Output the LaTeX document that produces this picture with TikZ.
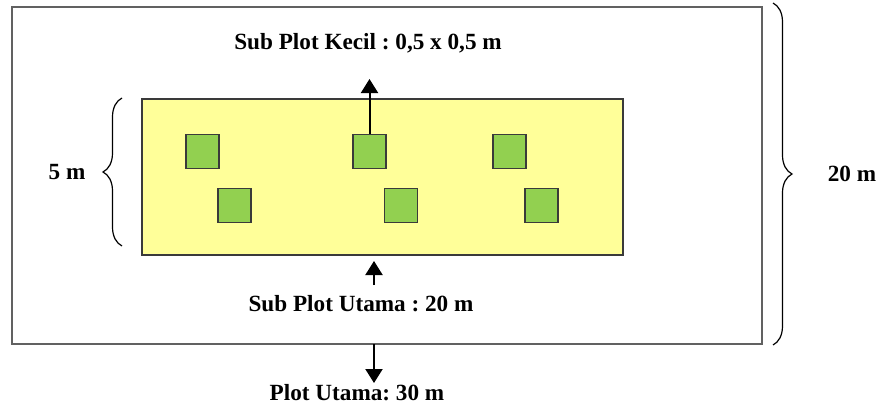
\documentclass[tikz,border=0pt]{standalone}
\usepackage{fontspec}
\setmainfont{Liberation Serif}
\usetikzlibrary{arrows.meta,decorations.pathreplacing}
\definecolor{plotyellow}{HTML}{FFFF99}
\definecolor{plotgreen}{HTML}{92D050}
\definecolor{edgegray}{HTML}{3A3A3A}
\begin{document}
\frenchspacing
\begin{tikzpicture}[x=0.5pt,y=-0.5pt,
  lbl/.style={font=\fontsize{11.6}{13}\selectfont\bfseries, inner sep=0pt},
  sq/.style={draw=edgegray, line width=0.6pt, fill=plotgreen, minimum width=16.5pt, minimum height=17pt, inner sep=0pt},
  arr/.style={line width=1pt, -{Triangle[width=8.5pt,length=7pt]}},
  bracepath/.style={line width=0.6pt, decorate, decoration={brace, amplitude=9.5pt}}]
\useasboundingbox (0,0) rectangle (880,407);
% outer plot
\draw[draw=edgegray!80, line width=0.6pt] (12,7) rectangle (762,344);
\coordinate (outerbot) at (374,344);
% sub plot utama
\draw[draw=edgegray, line width=0.6pt, fill=plotyellow] (142,99) rectangle (623,255);
\coordinate (yelbot) at (374,255);
% small sub plots
\node[sq] (s1) at (202.5,151.5) {};
\node[sq] (s2) at (234.5,205.5) {};
\node[sq] (s3) at (369.5,151.5) {};
\node[sq] (s4) at (401,205.5) {};
\node[sq] (s5) at (509.5,151.5) {};
\node[sq] (s6) at (541.5,205.5) {};
% labels
\node[lbl] (kecil) at (368,43) {Sub Plot Kecil : 0,5 x 0,5 m};
\node[lbl] (utama) at (361,304) {Sub Plot Utama : 20 m};
\node[lbl] (plot) at (357,393) {Plot Utama: 30 m};
\node[lbl] (five) at (67,172) {5 m};
\node[lbl] (twenty) at (852,174) {20 m};
% arrows
\coordinate (kecilend) at (s3.north |- 0,79);
\draw[arr] (s3.north) -- (kecilend);
\coordinate (utamastart) at (374,285);
\draw[arr] (utamastart) -- ([yshift=-3pt]yelbot);
\coordinate (plotend) at (374,383);
\draw[arr] (outerbot) -- (plotend);
% braces
\draw[bracepath] (773,3) -- (773,345);
\draw[bracepath] (122,246) -- (122,98);
\end{tikzpicture}
\end{document}
